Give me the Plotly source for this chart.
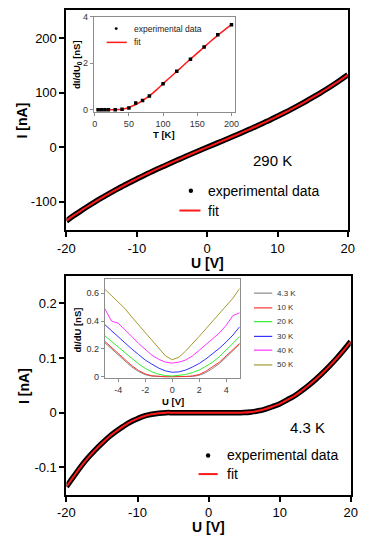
import plotly.graph_objects as go

W, H = 374, 542
def px(x): return x / W
def py(y): return 1 - y / H

# ---------------- data ----------------
# top panel: 290 K I-V
U_top = [-20, -19, -18, -17, -16, -15, -14, -13, -12, -11, -10, -9, -8, -7, -6, -5, -4, -3, -2, -1,
         0, 1, 2, 3, 4, 5, 6, 7, 8, 9, 10, 11, 12, 13, 14, 15, 16, 17, 18, 19, 20]
I_top_exp = [-135.0, -125.6, -117.0, -108.6, -100.6, -92.8, -85.3, -78.1, -71.2, -64.5, -58.0, -51.6,
             -45.5, -39.4, -33.6, -27.8, -22.1, -16.5, -11.0, -5.5, 0.0, 5.4, 10.8, 16.2, 21.7, 27.3,
             33.0, 38.7, 44.7, 50.7, 57.0, 63.4, 70.0, 76.9, 84.0, 91.4, 99.1, 107.0, 115.3, 124.0, 133.0]
I_top_fit = [-134.5, -125.3, -116.8, -108.5, -100.5, -92.8, -85.3, -78.1, -71.1, -64.4, -57.8, -51.4,
             -45.3, -39.2, -33.4, -27.6, -22.0, -16.4, -10.9, -5.4, 0.0, 5.4, 10.8, 16.2, 21.7, 27.3,
             33.0, 38.7, 44.7, 50.7, 57.0, 63.4, 70.0, 76.9, 84.0, 91.4, 99.1, 107.0, 115.3, 124.0, 133.0]

# bottom panel: 4.3 K I-V
U_bot = U_top
I_bot_exp = [-0.135, -0.117, -0.099, -0.083, -0.069, -0.056, -0.044, -0.034, -0.025, -0.017, -0.011,
             -0.006, -0.003, -0.001, 0.0, 0.0, 0.0, 0.0, 0.0, 0.0, 0.0, 0.0, 0.0, 0.0, 0.0, 0.0001,
             0.0012, 0.0034, 0.0066, 0.011, 0.016, 0.023, 0.030, 0.039, 0.049, 0.060, 0.072, 0.085,
             0.099, 0.114, 0.130]
I_bot_fit = I_bot_exp

# top inset: zero-bias conductance vs T
T_exp = [5, 10, 15, 20, 30, 40, 50, 60, 70, 80, 100, 120, 140, 160, 180, 200]
G_exp = [0.0, 0.0, 0.0, 0.0, 0.0, 0.03, 0.08, 0.3, 0.4, 0.6, 1.12, 1.66, 2.18, 2.7, 3.23, 3.66]
T_fit = [3, 10, 20, 30, 40, 50, 60, 70, 80, 90, 100, 110, 120, 130, 140, 150, 160, 170, 180, 190, 200]
G_fit = [0, 0, 0, 0.005, 0.03, 0.1, 0.23, 0.4, 0.6, 0.85, 1.12, 1.39, 1.65, 1.92, 2.18, 2.44, 2.7,
         2.96, 3.2, 3.44, 3.66]

# bottom inset: dI/dU vs U for several temperatures
U_ins = [-5, -4.5, -4, -3.5, -3, -2.5, -2, -1.5, -1, -0.5, 0, 0.5, 1, 1.5, 2, 2.5, 3, 3.5, 4, 4.5, 5]
temps = ["4.3 K", "10 K", "20 K", "30 K", "40 K", "50 K"]
G_43 = [0.245, 0.2, 0.155, 0.11, 0.07, 0.038, 0.015, 0.004, 0.0, 0.0, 0.0, 0.0, 0.0, 0.002, 0.01,
        0.03, 0.06, 0.095, 0.14, 0.185, 0.235]
G_10 = [0.255, 0.21, 0.165, 0.12, 0.08, 0.045, 0.02, 0.007, 0.002, 0.0, 0.0, 0.0, 0.002, 0.006,
        0.016, 0.04, 0.07, 0.105, 0.15, 0.195, 0.24]
G_20 = [0.295, 0.255, 0.215, 0.17, 0.13, 0.093, 0.06, 0.035, 0.018, 0.008, 0.005, 0.008, 0.016,
        0.03, 0.048, 0.075, 0.105, 0.145, 0.19, 0.24, 0.29]
G_30 = [0.375, 0.33, 0.285, 0.245, 0.2, 0.16, 0.12, 0.09, 0.062, 0.042, 0.032, 0.035, 0.048, 0.07,
        0.095, 0.128, 0.165, 0.205, 0.25, 0.3, 0.36]
G_40 = [0.49, 0.40, 0.385, 0.34, 0.29, 0.24, 0.195, 0.155, 0.125, 0.105, 0.098, 0.105, 0.12, 0.15,
        0.19, 0.23, 0.27, 0.315, 0.37, 0.44, 0.46]
G_50 = [0.63, 0.585, 0.54, 0.49, 0.43, 0.375, 0.32, 0.265, 0.205, 0.15, 0.122, 0.14, 0.185, 0.235,
        0.29, 0.345, 0.4, 0.45, 0.51, 0.565, 0.635]
ins_series = [G_43, G_10, G_20, G_30, G_40, G_50]
ins_colors = ["#8a8a8a", "#ff3333", "#33ee33", "#3333ff", "#ff33ff", "#a39a2e"]

FONT = "Liberation Sans, Arial, sans-serif"

fig = go.Figure()

# main top
fig.add_trace(go.Scatter(x=U_top, y=I_top_exp, mode="lines", line=dict(color="black", width=5.5, shape="spline"),
                         xaxis="x", yaxis="y", showlegend=False))
fig.add_trace(go.Scatter(x=U_top, y=I_top_fit, mode="lines", line=dict(color="#ff1a1a", width=2, shape="spline"),
                         xaxis="x", yaxis="y", showlegend=False))
# main bottom
fig.add_trace(go.Scatter(x=U_bot, y=I_bot_exp, mode="lines", line=dict(color="black", width=5.5, shape="spline"),
                         xaxis="x2", yaxis="y2", showlegend=False))
fig.add_trace(go.Scatter(x=U_bot, y=I_bot_fit, mode="lines", line=dict(color="#ff1a1a", width=2, shape="spline"),
                         xaxis="x2", yaxis="y2", showlegend=False))
# top inset
fig.add_trace(go.Scatter(x=T_fit, y=G_fit, mode="lines", line=dict(color="#ff1a1a", width=1.5, shape="spline"),
                         xaxis="x3", yaxis="y3", showlegend=False))
fig.add_trace(go.Scatter(x=T_exp, y=G_exp, mode="markers", marker=dict(color="black", size=3.5, symbol="square"),
                         xaxis="x3", yaxis="y3", showlegend=False))
# bottom inset
for name, g, c in zip(temps, ins_series, ins_colors):
    fig.add_trace(go.Scatter(x=U_ins, y=g, mode="lines", name=name, line=dict(color=c, width=1),
                             xaxis="x4", yaxis="y4", showlegend=False))

main_ax = dict(showline=True, linewidth=2, linecolor="black", mirror=True, ticks="outside",
               ticklen=5, tickwidth=1.5, tickcolor="black", showgrid=False, zeroline=False,
               tickfont=dict(family=FONT, size=13, color="black"))
ins_ax = dict(showline=True, linewidth=1, linecolor="#8c8c8c", mirror=True, ticks="outside",
              ticklen=3, tickwidth=1, tickcolor="#8c8c8c", showgrid=False, zeroline=False,
              tickfont=dict(family=FONT, size=9, color="#333333"))

fig.update_layout(
    width=W, height=H, margin=dict(l=0, r=0, t=0, b=0),
    paper_bgcolor="white", plot_bgcolor="white", showlegend=False,
    xaxis=dict(domain=[px(60), px(354)], range=[-20, 20], anchor="y",
               tickvals=[-20, -10, 0, 10, 20], ticktext=["-20", "-10", "0", "10", "20"], **main_ax),
    yaxis=dict(domain=[py(229), py(5)], range=[-152, 252], anchor="x",
               tickvals=[-100, 0, 100, 200], ticktext=["-100", "0", "100", "200"], **main_ax),
    xaxis2=dict(domain=[px(60), px(357)], range=[-20, 20], anchor="y2",
                tickvals=[-20, -10, 0, 10, 20], ticktext=["-20", "-10", "0", "10", "20"], **main_ax),
    yaxis2=dict(domain=[py(498), py(276)], range=[-0.15, 0.249], anchor="x2",
                tickvals=[-0.1, 0, 0.1, 0.2], ticktext=["-0.1", "0", "0.1", "0.2"], **main_ax),
    xaxis3=dict(domain=[px(88.5), px(236)], range=[-1.4, 205], anchor="y3",
                tickvals=[0, 50, 100, 150, 200], **ins_ax),
    yaxis3=dict(domain=[py(109), py(12)], range=[-0.1, 4.0], anchor="x3",
                tickvals=[0, 2, 4], **ins_ax),
    xaxis4=dict(domain=[px(100), px(241)], range=[-5, 5], anchor="y4",
                tickvals=[-4, -2, 0, 2, 4], ticktext=["-4", "-2", "0", "2", "4"], **ins_ax),
    yaxis4=dict(domain=[py(379), py(279)], range=[-0.007, 0.7], anchor="x4",
                tickvals=[0, 0.2, 0.4, 0.6], ticktext=["0", "0.2", "0.4", "0.6"], **ins_ax),
)

ann = []
shapes = []
def text(x, y, s, size, bold=False, angle=0, xanchor="center", color="black"):
    ann.append(dict(x=px(x), y=py(y), xref="paper", yref="paper", text=(f"<b>{s}</b>" if bold else s),
                    showarrow=False, textangle=angle, xanchor=xanchor, yanchor="middle",
                    font=dict(family=FONT, size=size, color=color)))

# axis titles
text(14, 117, "I [nA]", 14, bold=True, angle=-90)
text(207, 262, "U [V]", 14, bold=True)
text(15, 387, "I [nA]", 14, bold=True, angle=-90)
text(208, 531, "U [V]", 14, bold=True)
text(162, 132, "T [K]", 9.5, bold=True)
text(71, 60, "dI/dU<sub>0</sub> [nS]", 9.5, bold=True, angle=-90)
text(171, 403, "U [V]", 9.5, bold=True)
text(72, 330, "dI/dU [nS]", 9.5, bold=True, angle=-90)

# temperature labels
text(275, 158, "290 K", 15)
text(312, 430, "4.3 K", 15)

def dot(x, y, r, color="black"):
    shapes.append(dict(type="circle", xref="paper", yref="paper", x0=px(x - r), x1=px(x + r),
                       y0=py(y + r), y1=py(y - r), fillcolor=color, line=dict(width=0)))
def seg(x0, x1, y, color, w):
    shapes.append(dict(type="line", xref="paper", yref="paper", x0=px(x0), x1=px(x1), y0=py(y), y1=py(y),
                       line=dict(color=color, width=w)))

# main legends
dot(190, 189, 2.3)
text(206, 189, "experimental data", 14, xanchor="left")
seg(178, 200, 209, "#ff1a1a", 2)
text(206, 209, "fit", 14, xanchor="left")

dot(208, 458, 2.3)
text(226, 458, "experimental data", 14, xanchor="left")
seg(198, 218, 477, "#ff1a1a", 2)
text(226, 477, "fit", 14, xanchor="left")

# top inset legend
dot(112, 24, 1.5)
text(129, 24, "experimental data", 8.5, xanchor="left", color="#222222")
seg(102, 123, 38, "#ff1a1a", 1.5)
text(129, 38, "fit", 8.5, xanchor="left", color="#222222")

# bottom inset legend
ys = [293, 308, 322, 337, 351, 366]
for name, c, yy in zip(temps, ins_colors, ys):
    seg(256, 275, yy, c, 1.2)
    text(278, yy, name, 8, xanchor="left", color="#333333")

fig.update_layout(annotations=ann, shapes=shapes)
fig.write_html("out.html", config={"displayModeBar": False},
               post_script="document.body.style.margin='0';document.body.style.overflow='hidden';")
